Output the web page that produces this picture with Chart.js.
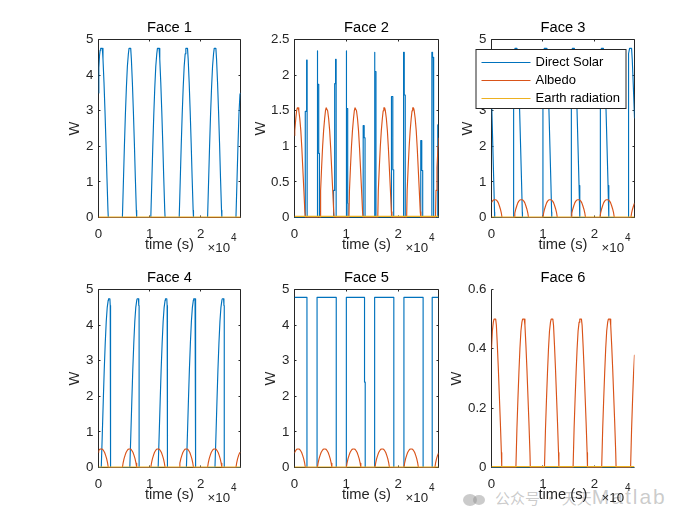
<!DOCTYPE html>
<html><head><meta charset="utf-8">
<script src="https://cdn.jsdelivr.net/npm/chart.js@4"></script>
<style>
html,body{margin:0;padding:0;background:#fff;}
#wrap{position:relative;width:700px;height:525px;overflow:hidden;background:#fff;}
#wrap canvas{position:absolute;}
#wm{position:absolute;left:463px;top:485px;white-space:nowrap;color:rgba(140,140,140,0.45);font-family:"Noto Sans CJK SC",sans-serif;}
#wm .ic{display:inline-block;width:14px;height:12px;border-radius:50%;background:rgba(140,140,140,0.45);vertical-align:middle;}
</style>
</head><body><div id="wrap"><div id="wm"><span class="ic"></span><span class="ic" style="width:12px;height:10px;margin-left:-4px;margin-right:10px"></span><span style="font-size:15px">公众号 · 天天</span><span style="font-size:21px;font-family:'Liberation Sans',Arial,sans-serif;letter-spacing:2px">Matlab</span></div></div>
<script>
// ---------------- data (time in s, power in W) ----------------
const seriesNames = ['Direct Solar', 'Albedo', 'Earth radiation'];
const xTicks = [0, 10000, 20000];
const xMax = 27800;
const yTicks0to5 = [0, 1, 2, 3, 4, 5];
const yTicksFace2 = [0, 0.5, 1, 1.5, 2, 2.5];
const yTicksFace6 = [0, 0.2, 0.4, 0.6];

const face1Solar = [
[0,3.5],[65,4.2],[200,4.55],[330,4.7],[423,4.75],[748,4.75],[878,4.45],[1073,3.8],[1268,3.0],[1463,2.1],[1658,1.1],[1853,0.2],[1918,0],
[4680,0],[4875,1.0],[5070,2.0],[5265,2.9],[5460,3.65],[5655,4.25],[5850,4.6],[5980,4.75],[6305,4.75],[6435,4.45],[6630,3.8],[6825,3.0],[7020,2.1],[7215,1.1],[7410,0.2],[7475,0],
[10240,0],[10435,1.0],[10630,2.0],[10825,2.9],[11020,3.65],[11215,4.25],[11410,4.6],[11540,4.75],[11865,4.75],[11995,4.45],[12190,3.8],[12385,3.0],[12580,2.1],[12775,1.1],[12970,0.2],[13035,0],
[15800,0],[15995,1.0],[16190,2.0],[16385,2.9],[16580,3.65],[16775,4.25],[16970,4.6],[17100,4.75],[17425,4.75],[17555,4.45],[17750,3.8],[17945,3.0],[18140,2.1],[18335,1.1],[18530,0.2],[18595,0],
[21355,0],[21550,1.0],[21745,2.0],[21940,2.9],[22135,3.65],[22330,4.25],[22525,4.6],[22655,4.75],[22980,4.75],[23110,4.45],[23305,3.8],[23500,3.0],[23695,2.1],[23890,1.1],[24085,0.2],[24150,0],
[26910,0],[27105,1.0],[27300,2.0],[27495,2.9],[27690,3.45],[27800,3.5]
];
const face1Albedo = [[0,0],[27800,0]];
const face1Earth = [[0,0.01],[27800,0.01]];

const face2Solar = [
[0,0],
[2080,0],[2080,1.49],[2340,1.49],[2340,2.21],[2440,2.21],[2440,0],
[4355,0],[4355,2.34],[4485,2.34],[4485,1.87],[4680,1.87],[4680,0.9],[4810,0.9],[4810,0],
[7540,0],[7540,0.38],[7670,0.38],[7670,0.86],[7800,0.86],[7800,1.88],[7930,1.88],[7930,2.22],[8040,2.22],[8040,0],
[9945,0],[9945,2.34],[10075,2.34],[10075,1.53],[10270,1.53],[10270,0.2],[10330,0.2],[10330,0],
[13260,0],[13260,1.29],[13450,1.29],[13450,1.12],[13620,1.12],[13620,0],
[15405,0],[15405,2.32],[15535,2.32],[15535,2.05],[15730,2.05],[15730,0],
[18720,0],[18720,1.7],[18980,1.7],[18980,0.67],[19150,0.67],[19150,0],
[21060,0],[21060,2.32],[21190,2.32],[21190,1.72],[21380,1.72],[21380,0],
[24375,0],[24375,1.08],[24570,1.08],[24570,0.66],[24750,0.66],[24750,0],
[26520,0],[26520,2.32],[26650,2.32],[26650,2.25],[26780,2.25],[26780,1.31],[26910,1.31],[26910,0],
[27560,0],[27560,1.3],[27700,1.3],[27700,0.61],[27800,0.61]
];
const face2Albedo = [
[0,1.15],[50,1.22],[250,1.39],[410,1.5],[540,1.54],[700,1.54],[830,1.5],[1020,1.39],[1220,1.22],[1420,0.97],[1610,0.68],[1810,0.38],[2000,0.08],[2100,0],
[4940,0],[5040,0.38],[5230,0.7],[5430,1.0],[5620,1.22],[5820,1.39],[5980,1.5],[6110,1.54],[6270,1.54],[6400,1.5],[6590,1.39],[6790,1.22],[6990,0.97],[7180,0.68],[7380,0.38],[7570,0.08],[7670,0],
[10510,0],[10610,0.38],[10800,0.7],[11000,1.0],[11190,1.22],[11390,1.39],[11550,1.5],[11680,1.54],[11840,1.54],[11970,1.5],[12160,1.39],[12360,1.22],[12560,0.97],[12750,0.68],[12950,0.38],[13140,0.08],[13240,0],
[16080,0],[16180,0.38],[16370,0.7],[16570,1.0],[16760,1.22],[16960,1.39],[17120,1.5],[17250,1.54],[17410,1.54],[17540,1.5],[17730,1.39],[17930,1.22],[18130,0.97],[18320,0.68],[18520,0.38],[18710,0.08],[18810,0],
[21650,0],[21750,0.38],[21940,0.7],[22140,1.0],[22330,1.22],[22530,1.39],[22690,1.5],[22820,1.54],[22980,1.54],[23110,1.5],[23300,1.39],[23500,1.22],[23700,0.97],[23890,0.68],[24090,0.38],[24280,0.08],[24380,0],
[27220,0],[27320,0.38],[27510,0.7],[27710,1.0],[27800,1.12]
];
const face2Earth = [[0,0.015],[27800,0.015]];

const face3Solar = [
[0,3.27],[70,3.0],[265,1.95],[460,0.9],[590,0.15],[620,0],
[4300,0],[4300,4.3],[4430,4.6],[4560,4.75],[4950,4.75],[5080,4.45],[5275,3.75],[5470,3.0],[5665,1.95],[5860,0.9],[5990,0.15],[6020,0],
[10000,0],[10000,4.3],[10130,4.6],[10260,4.75],[10650,4.75],[10780,4.45],[10975,3.75],[11170,3.0],[11365,1.95],[11560,0.9],[11690,0.15],[11720,0],
[15460,0],[15460,4.3],[15590,4.6],[15720,4.75],[16110,4.75],[16240,4.45],[16435,3.75],[16630,3.0],[16825,1.95],[17020,0.9],[17150,0.15],[17180,0],
[21100,0],[21100,4.3],[21230,4.6],[21360,4.75],[21750,4.75],[21880,4.45],[22075,3.75],[22270,3.0],[22465,1.95],[22660,0.9],[22790,0.15],[22820,0],
[26580,0],[26580,4.3],[26710,4.6],[26840,4.75],[27230,4.75],[27360,4.45],[27555,3.75],[27750,3.0],[27800,2.8]
];
const face3Albedo = [
[0,0.42],[160,0.46],[355,0.49],[550,0.5],[745,0.5],[940,0.49],[1135,0.46],[1330,0.41],[1525,0.33],[1720,0.24],[1915,0.12],[2045,0],
[4400,0],[4530,0.12],[4725,0.24],[4920,0.33],[5115,0.41],[5310,0.46],[5505,0.49],[5700,0.5],[5895,0.5],[6090,0.49],[6285,0.46],[6480,0.41],[6675,0.33],[6870,0.24],[7065,0.12],[7195,0],
[10000,0],[10130,0.12],[10325,0.24],[10520,0.33],[10715,0.41],[10910,0.46],[11105,0.49],[11300,0.5],[11495,0.5],[11690,0.49],[11885,0.46],[12080,0.41],[12275,0.33],[12470,0.24],[12665,0.12],[12795,0],
[15480,0],[15610,0.12],[15805,0.24],[16000,0.33],[16195,0.41],[16390,0.46],[16585,0.49],[16780,0.5],[16975,0.5],[17170,0.49],[17365,0.46],[17560,0.41],[17755,0.33],[17950,0.24],[18145,0.12],[18275,0],
[21080,0],[21210,0.12],[21405,0.24],[21600,0.33],[21795,0.41],[21990,0.46],[22185,0.49],[22380,0.5],[22575,0.5],[22770,0.49],[22965,0.46],[23160,0.41],[23355,0.33],[23550,0.24],[23745,0.12],[23875,0],
[27100,0],[27230,0.12],[27425,0.24],[27620,0.33],[27800,0.4]
];
const face3Earth = [[0,0.01],[27800,0.01]];

const face4Solar = [
[0,0],
[540,0],[735,0.9],[930,1.85],[1125,2.75],[1320,3.5],[1515,4.1],[1710,4.5],[1905,4.7],[1970,4.74],[2230,4.74],[2295,4.55],[2360,4.55],[2360,0],
[6130,0],[6325,0.9],[6520,1.85],[6715,2.75],[6910,3.5],[7105,4.1],[7300,4.5],[7495,4.7],[7560,4.74],[7820,4.74],[7885,4.55],[7950,4.55],[7950,0],
[11680,0],[11875,0.9],[12070,1.85],[12265,2.75],[12460,3.5],[12655,4.1],[12850,4.5],[13045,4.7],[13110,4.74],[13370,4.74],[13435,4.55],[13500,4.55],[13500,0],
[17210,0],[17405,0.9],[17600,1.85],[17795,2.75],[17990,3.5],[18185,4.1],[18380,4.5],[18575,4.7],[18640,4.74],[18900,4.74],[18965,4.55],[19030,4.55],[19030,0],
[22800,0],[22995,0.9],[23190,1.85],[23385,2.75],[23580,3.5],[23775,4.1],[23970,4.5],[24165,4.7],[24230,4.74],[24490,4.74],[24555,4.55],[24620,4.55],[24620,0],
[27800,0]
];
const face4Albedo = [
[0,0.42],[30,0.47],[225,0.51],[420,0.52],[615,0.52],[810,0.51],[1005,0.47],[1200,0.42],[1395,0.34],[1590,0.25],[1785,0.12],[1915,0],
[4680,0],[4810,0.12],[5005,0.25],[5200,0.34],[5395,0.42],[5590,0.47],[5785,0.51],[5980,0.52],[6175,0.52],[6370,0.51],[6565,0.47],[6760,0.42],[6955,0.34],[7150,0.25],[7345,0.12],[7475,0],
[10240,0],[10370,0.12],[10565,0.25],[10760,0.34],[10955,0.42],[11150,0.47],[11345,0.51],[11540,0.52],[11735,0.52],[11930,0.51],[12125,0.47],[12320,0.42],[12515,0.34],[12710,0.25],[12905,0.12],[13035,0],
[15800,0],[15930,0.12],[16125,0.25],[16320,0.34],[16515,0.42],[16710,0.47],[16905,0.51],[17100,0.52],[17295,0.52],[17490,0.51],[17685,0.47],[17880,0.42],[18075,0.34],[18270,0.25],[18465,0.12],[18595,0],
[21350,0],[21480,0.12],[21675,0.25],[21870,0.34],[22065,0.42],[22260,0.47],[22455,0.51],[22650,0.52],[22845,0.52],[23040,0.51],[23235,0.47],[23430,0.42],[23625,0.34],[23820,0.25],[24015,0.12],[24145,0],
[26910,0],[27040,0.12],[27235,0.25],[27430,0.34],[27625,0.41],[27800,0.42]
];
const face4Earth = [[0,0.01],[27800,0.01]];

const face5Solar = [
[0,4.78],[2405,4.78],[2405,0],[4355,0],[4355,4.78],[8060,4.78],[8060,0],[10010,0],[10010,4.78],
[13520,4.78],[13520,2.4],[13650,2.4],[13650,0],[15470,0],[15470,4.78],[19175,4.78],[19175,0],
[21125,0],[21125,4.78],[24830,4.78],[24830,0],[26585,0],[26585,4.78],[27800,4.78]
];
const face5Albedo = [
[0,0.41],[15,0.42],[210,0.47],[405,0.51],[600,0.52],[795,0.52],[990,0.51],[1185,0.47],[1380,0.42],[1575,0.34],[1770,0.25],[1965,0.12],[2095,0],
[4420,0],[4550,0.12],[4745,0.25],[4940,0.34],[5135,0.42],[5330,0.47],[5525,0.51],[5720,0.52],[5915,0.52],[6110,0.51],[6305,0.47],[6500,0.42],[6695,0.34],[6890,0.25],[7085,0.12],[7215,0],
[10010,0],[10140,0.12],[10335,0.25],[10530,0.34],[10725,0.42],[10920,0.47],[11115,0.51],[11310,0.52],[11505,0.52],[11700,0.51],[11895,0.47],[12090,0.42],[12285,0.34],[12480,0.25],[12675,0.12],[12805,0],
[15535,0],[15665,0.12],[15860,0.25],[16055,0.34],[16250,0.42],[16445,0.47],[16640,0.51],[16835,0.52],[17030,0.52],[17225,0.51],[17420,0.47],[17615,0.42],[17810,0.34],[18005,0.25],[18200,0.12],[18330,0],
[21125,0],[21255,0.12],[21450,0.25],[21645,0.34],[21840,0.42],[22035,0.47],[22230,0.51],[22425,0.52],[22620,0.52],[22815,0.51],[23010,0.47],[23205,0.42],[23400,0.34],[23595,0.25],[23790,0.12],[23920,0],
[27100,0],[27230,0.12],[27425,0.25],[27620,0.34],[27800,0.4]
];
const face5Earth = [[0,0.01],[27800,0.01]];

const face6Solar = [[0,0],[27800,0]];
const face6Albedo = [
[0,0.40],[165,0.46],[360,0.49],[490,0.5],[815,0.5],[945,0.48],[1140,0.41],[1335,0.33],[1530,0.24],[1725,0.15],[1920,0.05],[1990,0],
[4745,0],[4940,0.13],[5135,0.23],[5330,0.32],[5525,0.40],[5720,0.46],[5915,0.49],[6045,0.5],[6370,0.5],[6500,0.48],[6695,0.41],[6890,0.33],[7085,0.24],[7280,0.15],[7475,0.05],[7545,0],
[10300,0],[10495,0.13],[10690,0.23],[10885,0.32],[11080,0.40],[11275,0.46],[11470,0.49],[11600,0.5],[11925,0.5],[12055,0.48],[12250,0.41],[12445,0.33],[12640,0.24],[12835,0.15],[13030,0.05],[13100,0],
[15860,0],[16055,0.13],[16250,0.23],[16445,0.32],[16640,0.40],[16835,0.46],[17030,0.49],[17160,0.5],[17485,0.5],[17615,0.48],[17810,0.41],[18005,0.33],[18200,0.24],[18395,0.15],[18590,0.05],[18660,0],
[21420,0],[21615,0.13],[21810,0.23],[22005,0.32],[22200,0.40],[22395,0.46],[22590,0.49],[22720,0.5],[23045,0.5],[23175,0.48],[23370,0.41],[23565,0.33],[23760,0.24],[23955,0.15],[24150,0.05],[24220,0],
[27040,0],[27235,0.13],[27430,0.23],[27625,0.32],[27800,0.38]
];
const face6Earth = [[0,0.003],[27800,0.003]];

// ---------------- drawing ----------------
const FONT = '"Liberation Sans", Arial, Helvetica, sans-serif';
const COLORS = ['#0072BD', '#D95319', '#EDB120'];
const AX = '#262626';

const panels = [
  {title:'Face 1', s:[face1Solar, face1Albedo, face1Earth], yMax:5,   yTicks:yTicks0to5,  L:98,  T:39,  W:142, H:178, yw:31, box:true,  legend:false},
  {title:'Face 2', s:[face2Solar, face2Albedo, face2Earth], yMax:2.5, yTicks:yTicksFace2, L:294, T:39,  W:144, H:178, yw:41, box:true,  legend:false},
  {title:'Face 3', s:[face3Solar, face3Albedo, face3Earth], yMax:5,   yTicks:yTicks0to5,  L:491, T:39,  W:143, H:178, yw:31, box:true,  legend:true},
  {title:'Face 4', s:[face4Solar, face4Albedo, face4Earth], yMax:5,   yTicks:yTicks0to5,  L:98,  T:289, W:142, H:178, yw:31, box:true,  legend:false},
  {title:'Face 5', s:[face5Solar, face5Albedo, face5Earth], yMax:5,   yTicks:yTicks0to5,  L:294, T:289, W:144, H:178, yw:31, box:true,  legend:false},
  {title:'Face 6', s:[face6Solar, face6Albedo, face6Earth], yMax:0.6, yTicks:yTicksFace6, L:491, T:289, W:143, H:178, yw:42, box:false, legend:false}
];

const matlabAxes = {
  id: 'matlabAxes',
  beforeDatasetsDraw(chart, args, opts) {
    const {ctx, chartArea: a, scales: {x, y}} = chart;
    ctx.save();
    ctx.strokeStyle = AX; ctx.lineWidth = 1;
    ctx.beginPath();
    ctx.moveTo(a.left, a.top); ctx.lineTo(a.left, a.bottom); ctx.lineTo(a.right, a.bottom);
    if (opts.box) { ctx.lineTo(a.right, a.top); ctx.lineTo(a.left, a.top); }
    const tl = 2;
    x.ticks.forEach(t => {
      const px = Math.round(x.getPixelForValue(t.value) - 0.5) + 0.5;
      ctx.moveTo(px, a.bottom); ctx.lineTo(px, a.bottom - tl);
      if (opts.box) { ctx.moveTo(px, a.top); ctx.lineTo(px, a.top + tl); }
    });
    y.ticks.forEach(t => {
      const py = Math.round(y.getPixelForValue(t.value) - 0.5) + 0.5;
      ctx.moveTo(a.left, py); ctx.lineTo(a.left + tl, py);
      if (opts.box) { ctx.moveTo(a.right, py); ctx.lineTo(a.right - tl, py); }
    });
    ctx.stroke();
    ctx.restore();
  },
  afterDraw(chart, args, opts) {
    const {ctx, chartArea: a} = chart;
    ctx.save();
    ctx.fillStyle = AX; ctx.textBaseline = 'middle'; ctx.textAlign = 'left';
    ctx.font = '13.3px ' + FONT;
    const ex = a.right - 33;
    ctx.fillText('\u00D710', ex, a.bottom + 30.5);
    const w = ctx.measureText('\u00D710').width;
    ctx.font = '10px ' + FONT;
    ctx.fillText('4', ex + w + 1, a.bottom + 20.5);
    if (opts.legend) {
      const bx = a.left - 15.5, by = a.top + 10, bw = 150, bh = 59;
      ctx.fillStyle = '#fff';
      ctx.fillRect(bx, by, bw, bh);
      ctx.strokeStyle = AX; ctx.lineWidth = 1;
      ctx.strokeRect(bx, by, bw, bh);
      ctx.font = '13px ' + FONT;
      chart.data.datasets.forEach((ds, i) => {
        const ry = by + 12.5 + i * 18;
        ctx.strokeStyle = ds.borderColor; ctx.lineWidth = 1;
        ctx.beginPath(); ctx.moveTo(a.left - 10, Math.round(ry) + 0.5); ctx.lineTo(a.left + 39, Math.round(ry) + 0.5); ctx.stroke();
        ctx.fillStyle = '#000'; ctx.textBaseline = 'middle';
        ctx.fillText(ds.label, a.left + 44, ry);
      });
    }
    ctx.restore();
  }
};

const wrap = document.getElementById('wrap');
panels.forEach(p => {
  const cv = document.createElement('canvas');
  const cw = p.yw + p.W + 11, ch = 30 + p.H + 41;
  cv.width = cw; cv.height = ch;
  cv.style.width = cw + 'px'; cv.style.height = ch + 'px';
  cv.style.left = (p.L - p.yw) + 'px'; cv.style.top = (p.T - 30) + 'px';
  wrap.appendChild(cv);
  const toXY = arr => arr.map(([x, y]) => ({x, y}));
  new Chart(cv, {
    type: 'line',
    data: {datasets: seriesNames.map((name, i) => ({
      label: name, data: toXY(p.s[i]), borderColor: COLORS[i], backgroundColor: COLORS[i],
      order: 3 - i
    }))},
    options: {
      responsive: false, animation: false, devicePixelRatio: 1, events: [],
      elements: {line: {borderWidth: 1.15, tension: 0, fill: false, borderJoinStyle: 'round', borderCapStyle: 'butt'}, point: {radius: 0, hoverRadius: 0}},
      layout: {padding: {left: 0.5, right: 10.5, top: 0.5, bottom: 0.5}},
      plugins: {
        legend: {display: false}, tooltip: {enabled: false},
        title: {display: true, text: p.title, fullSize: false, color: '#000',
          font: {family: FONT, size: 14.7, weight: 'normal', lineHeight: '18px'}, padding: {top: 9, bottom: 3}},
        matlabAxes: {box: p.box, legend: p.legend}
      },
      scales: {
        x: {
          type: 'linear', min: 0, max: xMax,
          grid: {display: false, drawTicks: false}, border: {display: false},
          afterBuildTicks: s => { s.ticks = xTicks.map(v => ({value: v})); },
          ticks: {padding: 8.5, color: AX, autoSkip: false, maxRotation: 0,
            font: {family: FONT, size: 13.3, lineHeight: '16px'}, callback: v => String(v / 10000)},
          title: {display: true, text: 'time (s)', color: AX,
            font: {family: FONT, size: 14.7, lineHeight: '18px'}, padding: {top: 0, bottom: 4}},
          afterFit: s => { s.height = 40; }
        },
        y: {
          type: 'linear', min: 0, max: p.yMax,
          grid: {display: false, drawTicks: false}, border: {display: false},
          afterBuildTicks: s => { s.ticks = p.yTicks.map(v => ({value: v})); },
          ticks: {padding: 5, color: AX, autoSkip: false,
            font: {family: FONT, size: 13.3, lineHeight: '16px'}, callback: v => String(v)},
          title: {display: true, text: 'W', color: AX,
            font: {family: FONT, size: 14.7, lineHeight: '15px'}, padding: 0},
          afterFit: s => { s.width = p.yw; }
        }
      }
    },
    plugins: [matlabAxes]
  });
});
</script>
</body></html>
